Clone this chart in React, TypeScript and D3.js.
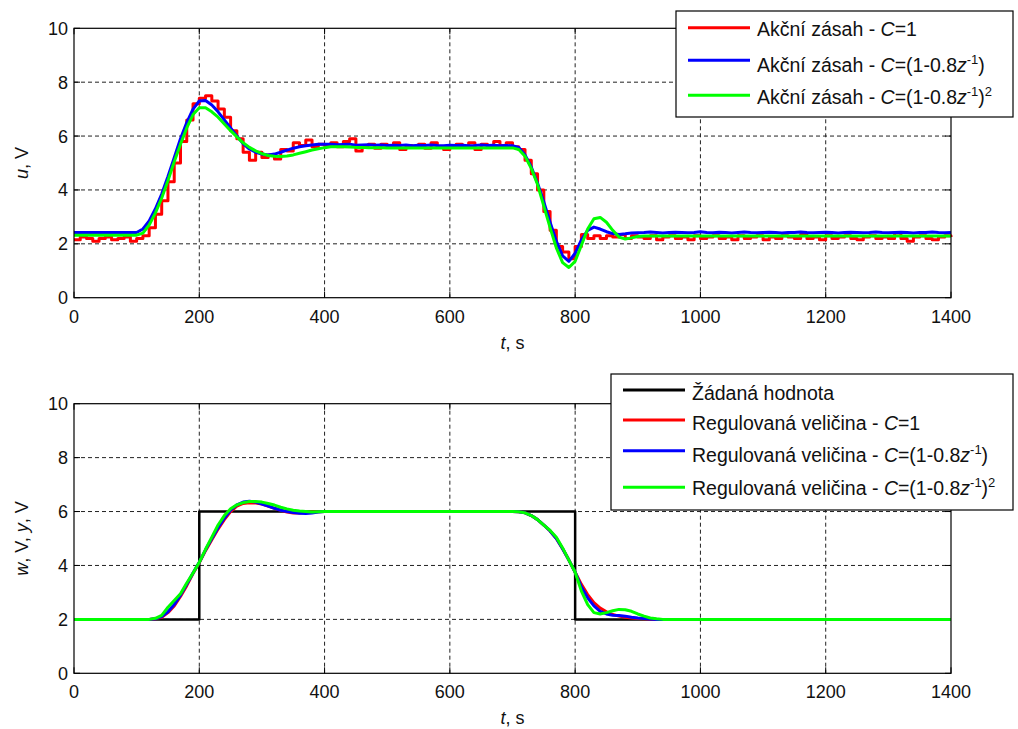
import React from 'react';
import * as d3 from 'd3';

// ---------- DATA ----------
const xTickValues = [0, 200, 400, 600, 800, 1000, 1200, 1400];
const yTickValues = [0, 2, 4, 6, 8, 10];

// Top plot: control action u (sampled every 10 s, 0..1400)
const uTime = d3.range(0, 1401, 10);
const uRed = [
  2.15, 2.25, 2.2, 2.1, 2.2, 2.25, 2.15, 2.2, 2.25, 2.1, 2.2,
  2.3, 2.6, 3.1, 3.6, 4.3, 5.0, 5.8, 6.6, 7.2, 7.4,
  7.5, 7.3, 7.0, 6.7, 6.2, 5.9, 5.4, 5.1, 5.4, 5.2,
  5.3, 5.15, 5.5, 5.45, 5.75, 5.65, 5.85, 5.6, 5.7, 5.65,
  5.75, 5.6, 5.8, 5.9, 5.45, 5.65, 5.7, 5.55, 5.7, 5.6,
  5.75, 5.5, 5.65, 5.6, 5.7, 5.55, 5.75, 5.6, 5.5, 5.65,
  5.7, 5.6, 5.75, 5.5, 5.7, 5.6, 5.8, 5.65, 5.75, 5.6,
  5.5, 5.1, 4.6, 4.0, 3.2, 2.5, 1.9, 1.7, 1.45, 1.9,
  2.35, 2.2, 2.3, 2.2, 2.3, 2.25, 2.35, 2.2, 2.3, 2.25,
  2.2, 2.3, 2.15, 2.25, 2.3, 2.2, 2.25, 2.15, 2.3, 2.2,
  2.25, 2.3, 2.2, 2.25, 2.15, 2.3, 2.2, 2.25, 2.3, 2.15,
  2.25, 2.2, 2.3, 2.25, 2.2, 2.35, 2.2, 2.25, 2.15, 2.3,
  2.2, 2.25, 2.3, 2.2, 2.15, 2.25, 2.3, 2.2, 2.25, 2.2,
  2.4, 2.2, 2.1, 2.25, 2.3, 2.2, 2.15, 2.25, 2.3, 2.25,
];
const uBlue = [
  2.42, 2.42, 2.42, 2.42, 2.42, 2.42, 2.42, 2.42, 2.42, 2.42, 2.42,
  2.55, 2.85, 3.3, 3.85, 4.5, 5.2, 5.9, 6.5, 7.0, 7.3,
  7.32, 7.15, 6.9, 6.6, 6.3, 6.0, 5.72, 5.52, 5.4, 5.33,
  5.3, 5.33, 5.4, 5.48, 5.55, 5.6, 5.64, 5.67, 5.7, 5.7,
  5.7, 5.68, 5.69, 5.7, 5.66, 5.67, 5.68, 5.66, 5.67, 5.65,
  5.66, 5.65, 5.67, 5.64, 5.66, 5.65, 5.67, 5.65, 5.64, 5.66,
  5.65, 5.66, 5.64, 5.65, 5.67, 5.65, 5.66, 5.64, 5.65, 5.64,
  5.58, 5.3, 4.85, 4.25, 3.55, 2.8, 2.1, 1.55, 1.35, 1.65,
  2.15, 2.5, 2.62, 2.55, 2.45, 2.38, 2.35, 2.37, 2.4, 2.41,
  2.42, 2.44, 2.42, 2.4, 2.42, 2.43, 2.42, 2.41, 2.42, 2.45,
  2.42, 2.41, 2.43, 2.42, 2.4, 2.42, 2.44, 2.42, 2.41, 2.42,
  2.43, 2.42, 2.4, 2.42, 2.42, 2.44, 2.42, 2.41, 2.42, 2.43,
  2.42, 2.4, 2.42, 2.43, 2.42, 2.41, 2.42, 2.44, 2.42, 2.41,
  2.42, 2.43, 2.42, 2.4, 2.42, 2.42, 2.44, 2.42, 2.41, 2.42,
];
const uGreenTime = [
  0, 100, 110, 120, 130, 140, 150, 160, 170, 180, 190, 200,
  210, 220, 230, 240, 250, 260, 270, 280, 290, 300,
  310, 320, 330, 340, 350, 360, 370, 380, 390, 400,
  410, 420, 430, 440, 450, 460, 470, 480, 490, 500, 700,
  710, 720, 730, 740, 750, 760, 770, 780, 790, 800,
  810, 820, 830, 840, 850, 860, 870, 880, 890, 900, 910, 1400,
];
const uGreen = [
  2.32, 2.32, 2.4, 2.7, 3.15, 3.7, 4.35, 5.05, 5.7, 6.3, 6.8, 7.05,
  7.05, 6.9, 6.7, 6.45, 6.2, 5.97, 5.75, 5.58, 5.45, 5.35,
  5.28, 5.25, 5.24, 5.26, 5.3, 5.36, 5.42, 5.48, 5.53, 5.57,
  5.6, 5.6, 5.6, 5.59, 5.58, 5.58, 5.57, 5.57, 5.57, 5.56, 5.56,
  5.5, 5.25, 4.8, 4.2, 3.4, 2.6, 1.85, 1.3, 1.12, 1.35,
  1.95, 2.55, 2.93, 2.98, 2.8, 2.5, 2.25, 2.18, 2.22, 2.27, 2.29, 2.29,
];

// Bottom plot: setpoint w and controlled variable y
const wTime = [0, 200, 200, 800, 800, 1400];
const wValue = [2, 2, 6, 6, 2, 2];
const yTime = [
  0, 120, 130, 140, 150, 160, 170, 180, 190, 200,
  210, 220, 230, 240, 250, 260, 270, 280, 290, 300,
  310, 320, 330, 340, 350, 360, 370, 380, 390, 400, 700,
  710, 720, 730, 740, 750, 760, 770, 780, 790, 800,
  810, 820, 830, 840, 850, 860, 870, 880, 890, 900,
  910, 920, 930, 940, 950, 1400,
];
const yRed = [
  2, 2.0, 2.02, 2.08, 2.25, 2.5, 2.85, 3.25, 3.7, 4.1,
  4.55, 4.95, 5.35, 5.7, 6.0, 6.2, 6.3, 6.33, 6.32, 6.28,
  6.2, 6.12, 6.05, 5.98, 5.95, 5.95, 5.97, 5.98, 5.99, 6.0, 6.0,
  5.99, 5.95, 5.85, 5.7, 5.5, 5.28, 5.0, 4.62, 4.2, 3.75,
  3.3, 2.92, 2.62, 2.42, 2.28, 2.18, 2.12, 2.08, 2.05, 2.03,
  2.02, 2.01, 2.0, 2.0, 2.0, 2.0,
];
const yBlue = [
  2, 2.0, 2.02, 2.1, 2.28, 2.55, 2.9, 3.3, 3.72, 4.12,
  4.58, 5.0, 5.4, 5.75, 6.05, 6.25, 6.35, 6.38, 6.35, 6.28,
  6.2, 6.12, 6.05, 6.0, 5.96, 5.94, 5.93, 5.95, 5.98, 6.0, 6.0,
  5.99, 5.95, 5.85, 5.7, 5.5, 5.28, 5.0, 4.62, 4.2, 3.75,
  3.2, 2.8, 2.5, 2.3, 2.2, 2.15, 2.14, 2.12, 2.08, 2.05,
  2.03, 2.01, 2.0, 2.0, 2.0, 2.0,
];
const yGreen = [
  2, 2.0, 2.04, 2.15, 2.45, 2.7, 2.95, 3.35, 3.72, 4.12,
  4.6, 5.05, 5.5, 5.85, 6.1, 6.25, 6.33, 6.37, 6.37, 6.35,
  6.3, 6.24, 6.16, 6.1, 6.05, 6.02, 6.0, 5.98, 5.99, 6.0, 6.0,
  5.99, 5.95, 5.85, 5.7, 5.5, 5.3, 5.05, 4.65, 4.2, 3.75,
  3.05, 2.55, 2.25, 2.2, 2.25, 2.32, 2.37, 2.36, 2.3, 2.2,
  2.12, 2.05, 2.02, 2.0, 2.0, 2.0,
];

// ---------- LAYOUT ----------
const W = 1018;
const H = 729;
const X0 = 74;
const X1 = 951;
const TOP = { y0: 28.3, y1: 297.7 };
const BOT = { y0: 403.7, y1: 673.3 };
const FONT = "'Liberation Sans', Arial, sans-serif";
const FS = 18;
const LFS = 19.5;
const SFS = 13;

const xScale = d3.scaleLinear().domain([0, 1400]).range([X0, X1]);

type Series = { t: number[]; v: number[]; color: string; width: number; step?: boolean };

function Panel({ box, series, ylabel }: { box: { y0: number; y1: number }; series: Series[]; ylabel: React.ReactNode }) {
  const yScale = d3.scaleLinear().domain([0, 10]).range([box.y1, box.y0]);
  const paths = series.map((s, i) => {
    const pts = s.t.map((t, k) => [t, s.v[k]] as [number, number]);
    const line = d3
      .line<[number, number]>()
      .x((d) => xScale(d[0]))
      .y((d) => yScale(d[1]))
      .curve(s.step ? d3.curveStepAfter : d3.curveLinear);
    return (
      <path key={i} d={line(pts) || ''} fill="none" stroke={s.color} strokeWidth={s.width} strokeLinejoin="round" />
    );
  });
  return (
    <g>
      <rect x={X0} y={box.y0} width={X1 - X0} height={box.y1 - box.y0} fill="#fff" />
      {xTickValues.slice(1, -1).map((t) => (
        <line key={'gx' + t} x1={xScale(t)} x2={xScale(t)} y1={box.y0} y2={box.y1} stroke="#222" strokeWidth={1} strokeDasharray="4,3" />
      ))}
      {yTickValues.slice(1, -1).map((v) => (
        <line key={'gy' + v} x1={X0} x2={X1} y1={yScale(v)} y2={yScale(v)} stroke="#222" strokeWidth={1} strokeDasharray="4,3" />
      ))}
      {xTickValues.map((t) => (
        <g key={'tx' + t}>
          <line x1={xScale(t)} x2={xScale(t)} y1={box.y1} y2={box.y1 - 6} stroke="#000" />
          <line x1={xScale(t)} x2={xScale(t)} y1={box.y0} y2={box.y0 + 6} stroke="#000" />
          <text x={xScale(t)} y={box.y1 + 25} textAnchor="middle" fontFamily={FONT} fontSize={FS} fill="#111">
            {t}
          </text>
        </g>
      ))}
      {yTickValues.map((v) => (
        <g key={'ty' + v}>
          <line x1={X0} x2={X0 + 6} y1={yScale(v)} y2={yScale(v)} stroke="#000" />
          <line x1={X1} x2={X1 - 6} y1={yScale(v)} y2={yScale(v)} stroke="#000" />
          <text x={68} y={yScale(v) + 6.5} textAnchor="end" fontFamily={FONT} fontSize={FS} fill="#111">
            {v}
          </text>
        </g>
      ))}
      <g>{paths}</g>
      <rect x={X0} y={box.y0} width={X1 - X0} height={box.y1 - box.y0} fill="none" stroke="#000" strokeWidth={1.2} />
      <text x={(X0 + X1) / 2} y={box.y1 + 51} textAnchor="middle" fontFamily={FONT} fontSize={FS} fill="#111">
        <tspan fontStyle="italic">t</tspan>, s
      </text>
      <text transform={`translate(28,${(box.y0 + box.y1) / 2}) rotate(-90)`} textAnchor="middle" fontFamily={FONT} fontSize={FS} fill="#111">
        {ylabel}
      </text>
    </g>
  );
}

type Row = { cy: number; base: number; color: string; lw: number; label: React.ReactNode };

function Legend({ x, y, w, h, rows }: { x: number; y: number; w: number; h: number; rows: Row[] }) {
  return (
    <g>
      <rect x={x} y={y} width={w} height={h} fill="#fff" stroke="#000" strokeWidth={1.2} />
      {rows.map((r, i) => (
        <g key={i}>
          <line x1={x + 12} x2={x + 74} y1={r.cy} y2={r.cy} stroke={r.color} strokeWidth={r.lw} />
          <text x={x + 81} y={r.base} fontFamily={FONT} fontSize={LFS} fill="#111">
            {r.label}
          </text>
        </g>
      ))}
    </g>
  );
}

const lblC1 = (prefix: string) => (
  <>
    {prefix} - <tspan fontStyle="italic">C</tspan>=1
  </>
);
const lblC2 = (prefix: string) => (
  <>
    {prefix} - <tspan fontStyle="italic">C</tspan>=(1-0.8<tspan fontStyle="italic">z</tspan>
    <tspan dy={-8} fontSize={SFS}>-1</tspan>
    <tspan dy={8}>)</tspan>
  </>
);
const lblC3 = (prefix: string) => (
  <>
    {prefix} - <tspan fontStyle="italic">C</tspan>=(1-0.8<tspan fontStyle="italic">z</tspan>
    <tspan dy={-8} fontSize={SFS}>-1</tspan>
    <tspan dy={8}>)</tspan>
    <tspan dy={-8} fontSize={SFS}>2</tspan>
  </>
);

export default function App() {
  const topSeries: Series[] = [
    { t: uTime, v: uRed, color: '#ff0000', width: 3, step: true },
    { t: uTime, v: uBlue, color: '#0000ff', width: 3 },
    { t: uGreenTime, v: uGreen, color: '#00ff00', width: 3 },
  ];
  const botSeries: Series[] = [
    { t: wTime, v: wValue, color: '#000000', width: 2.5 },
    { t: yTime, v: yRed, color: '#ff0000', width: 3 },
    { t: yTime, v: yBlue, color: '#0000ff', width: 3 },
    { t: yTime, v: yGreen, color: '#00ff00', width: 3 },
  ];
  return (
    <svg width={W} height={H} style={{ position: 'absolute', left: 0, top: 0, background: '#fff' }}>
      <rect width={W} height={H} fill="#fff" />
      <Panel
        box={TOP}
        series={topSeries}
        ylabel={
          <>
            <tspan fontStyle="italic">u</tspan>, V
          </>
        }
      />
      <Panel
        box={BOT}
        series={botSeries}
        ylabel={
          <>
            <tspan fontStyle="italic">w</tspan>, V, <tspan fontStyle="italic">y</tspan>, V
          </>
        }
      />
      <Legend
        x={676}
        y={11}
        w={337}
        h={106}
        rows={[
          { cy: 27.7, base: 36, color: '#ff0000', lw: 3, label: lblC1('Akční zásah') },
          { cy: 60.3, base: 72, color: '#0000ff', lw: 3, label: lblC2('Akční zásah') },
          { cy: 95.3, base: 104, color: '#00ff00', lw: 3, label: lblC3('Akční zásah') },
        ]}
      />
      <Legend
        x={611}
        y={374}
        w={402}
        h={136}
        rows={[
          { cy: 390, base: 399.5, color: '#000000', lw: 3, label: <>Žádaná hodnota</> },
          { cy: 420, base: 430, color: '#ff0000', lw: 3, label: lblC1('Regulovaná veličina') },
          { cy: 450.7, base: 462, color: '#0000ff', lw: 3, label: lblC2('Regulovaná veličina') },
          { cy: 487.3, base: 495, color: '#00ff00', lw: 3, label: lblC3('Regulovaná veličina') },
        ]}
      />
    </svg>
  );
}
